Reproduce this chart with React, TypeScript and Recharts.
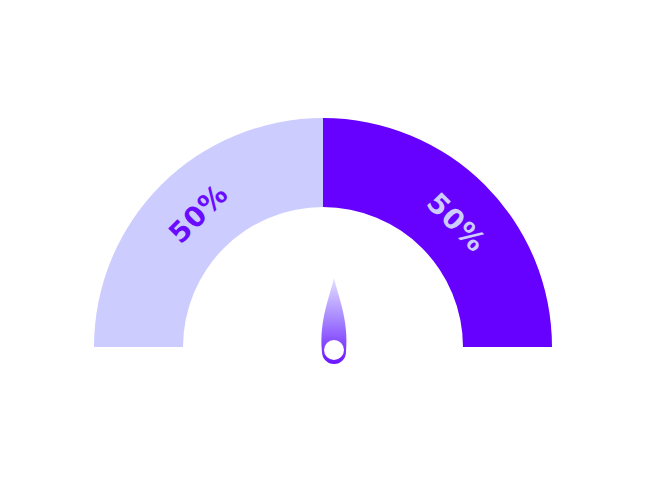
import React from 'react';
import { PieChart, Pie, Cell, Customized } from 'recharts';

const segmentNames = ['Low', 'High'];
const segmentValues = [50, 50];
const segmentColors = ['#CCCCFF', '#6600FF'];
const labelColors = ['#6A0AFF', '#CCCCFF'];
const needleValue = 50;

const data = segmentNames.map((name, i) => ({ name, value: segmentValues[i] }));
const total = segmentValues.reduce((a, b) => a + b, 0);

// pie center (chart has a 5px default margin)
const CX = 310;
const CY = 334;
const IR = 140;
const OR = 229;
const RADIAN = Math.PI / 180;

const renderLabel = (props: any) => {
    const { cx, cy, midAngle, innerRadius, outerRadius, percent, index } = props;
    const a = midAngle - 2;
    const r = (innerRadius + outerRadius) / 2 - 2;
    const x = cx + r * Math.cos(-a * RADIAN);
    const y = cy + r * Math.sin(-a * RADIAN);
    const rot = 90 - midAngle;
    return (
        <text
            x={x}
            y={y}
            fill={labelColors[index]}
            textAnchor="middle"
            dominantBaseline="central"
            fontFamily="'DejaVu Sans', sans-serif"
            fontWeight={700}
            fontSize={28}
            letterSpacing={1}
            transform={`rotate(${rot}, ${x}, ${y})`}
        >
            {`${Math.round(percent * 100)}%`}
        </text>
    );
};

// teardrop needle, drawn pointing up and rotated to the value angle
const Needle = () => {
    const ang = 180 * (1 - needleValue / total);
    const bx = CX + 16;
    const by = CY + 10;
    const rot = 90 - ang;
    const d = `M 0 -74 C 4 -56 15 -32 12 0 A 12 12 0 0 1 -12 0 C -15 -32 -4 -56 0 -74 Z`;
    return (
        <g transform={`translate(${bx}, ${by}) rotate(${rot})`}>
            <defs>
                <linearGradient id="needleGrad" x1="0" y1="0" x2="0" y2="1">
                    <stop offset="0%" stopColor="#E4E0FF" />
                    <stop offset="50%" stopColor="#A482FF" />
                    <stop offset="100%" stopColor="#6A14FF" />
                </linearGradient>
            </defs>
            <path d={d} fill="url(#needleGrad)" />
            <circle cx={0} cy={-2} r={10} fill="#FFFFFF" />
        </g>
    );
};

export default function App() {
    return (
        <PieChart width={631} height={488}>
            <Pie
                data={data}
                dataKey="value"
                nameKey="name"
                cx={CX}
                cy={CY}
                startAngle={180}
                endAngle={0}
                innerRadius={IR}
                outerRadius={OR}
                stroke="none"
                labelLine={false}
                label={renderLabel}
                isAnimationActive={false}
            >
                {data.map((entry, index) => (
                    <Cell key={`cell-${index}`} fill={segmentColors[index]} />
                ))}
            </Pie>
            <Customized component={Needle} />
        </PieChart>
    );
}
